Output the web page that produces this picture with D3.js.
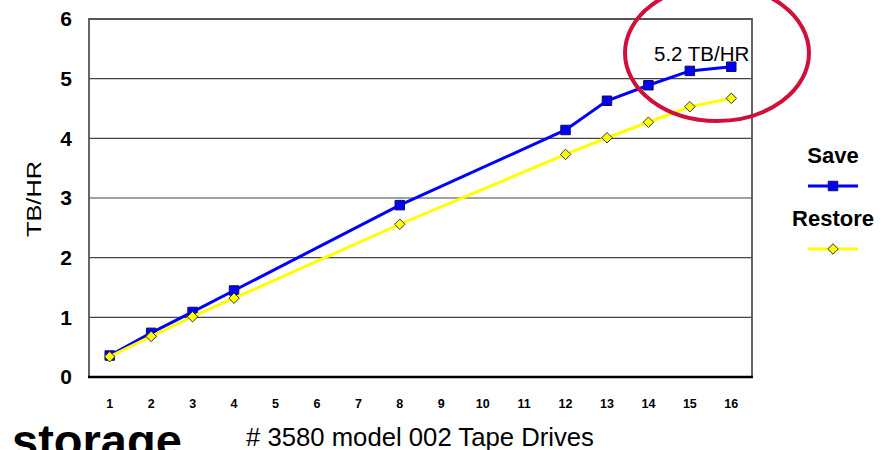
<!DOCTYPE html>
<html>
<head>
<meta charset="utf-8">
<script src="https://cdn.jsdelivr.net/npm/d3@7"></script>
<style>
    body { margin: 0; background: #fff; }
    text { font-family: Arial, "Liberation Sans", sans-serif; }
</style>
</head>
<body>
<div id="chart"></div>
<script>
// data
const drives = ["1", "2", "3", "4", "5", "6", "7", "8", "9", "10", "11", "12", "13", "14", "15", "16"];
const measured = ["1", "2", "3", "4", "8", "12", "13", "14", "15", "16"];
const saveValues = [0.36, 0.74, 1.09, 1.45, 2.88, 4.14, 4.63, 4.89, 5.13, 5.20];
const restoreValues = [0.34, 0.68, 1.01, 1.32, 2.56, 3.73, 4.01, 4.27, 4.53, 4.67];
const yTicks = [0, 1, 2, 3, 4, 5, 6];

class LinePlot {
    constructor(config) {
        this.config = config;
        this.svg = d3.select(config.div)
            .append("svg")
            .attr("width", config.width)
            .attr("height", config.height);
        this.createScales();
    }

    createScales() {
        let c = this.config;
        this.xScale = d3.scaleBand().domain(drives).range([c.left, c.right]).padding(0);
        this.yScale = d3.scaleLinear().domain([0, 6]).range([c.bottom, c.top]);
    }

    cx(d) {
        return this.xScale(d) + this.xScale.bandwidth() / 2;
    }

    symbol(shape) {
        return d3.symbol()
            .type(shape === "square" ? d3.symbolSquare : d3.symbolDiamond2)
            .size(shape === "square" ? 90 : 70);
    }

    renderGrid() {
        let c = this.config;
        this.svg.append("g")
            .selectAll("line")
            .data(yTicks.filter(t => t > 0 && t < 6))
            .join("line")
            .attr("x1", c.left).attr("x2", c.right)
            .attr("y1", d => this.yScale(d)).attr("y2", d => this.yScale(d))
            .attr("stroke", "#444")
            .attr("stroke-width", 1.2);

        // frame
        this.svg.append("path")
            .attr("d", `M${c.left},${c.bottom} V${c.top} H${c.right} V${c.bottom}`)
            .attr("fill", "none")
            .attr("stroke", "#555")
            .attr("stroke-width", 1.8);
        this.svg.append("line")
            .attr("x1", c.left - 1).attr("x2", c.right + 1)
            .attr("y1", c.bottom).attr("y2", c.bottom)
            .attr("stroke", "#000")
            .attr("stroke-width", 2.5);
    }

    renderAxes() {
        let c = this.config;
        let yAxis = d3.axisLeft(this.yScale).tickValues(yTicks).tickFormat(d3.format("d"))
            .tickSize(0).tickPadding(17);
        let gy = this.svg.append("g")
            .attr("transform", `translate(${c.left},0)`)
            .call(yAxis);
        gy.select(".domain").remove();
        gy.selectAll("text")
            .attr("font-size", 21)
            .attr("font-weight", "bold")
            .attr("fill", "#000");

        let xAxis = d3.axisBottom(this.xScale).tickSize(0).tickPadding(22);
        let gx = this.svg.append("g")
            .attr("transform", `translate(0,${c.bottom})`)
            .call(xAxis);
        gx.select(".domain").remove();
        gx.selectAll("text")
            .attr("font-size", 12.5)
            .attr("font-weight", "bold")
            .attr("fill", "#000");
    }

    renderSeries(values, color, shape) {
        let pts = measured.map((d, i) => ({ x: d, y: values[i] }));
        let line = d3.line().x(d => this.cx(d.x)).y(d => this.yScale(d.y));
        this.svg.append("path")
            .datum(pts)
            .attr("d", line)
            .attr("fill", "none")
            .attr("stroke", color)
            .attr("stroke-width", 3);

        this.svg.append("g")
            .selectAll("path")
            .data(pts)
            .join("path")
            .attr("d", this.symbol(shape))
            .attr("transform", d => `translate(${this.cx(d.x)},${this.yScale(d.y)})`)
            .attr("fill", color)
            .attr("stroke", shape === "square" ? "#101050" : "#333")
            .attr("stroke-width", 1);
    }

    renderLegendItem(label, y, color, shape) {
        let x = 833;
        this.svg.append("text")
            .attr("x", x).attr("y", y)
            .attr("text-anchor", "middle")
            .attr("font-size", 22)
            .attr("font-weight", "bold")
            .text(label);
        this.svg.append("line")
            .attr("x1", x - 25).attr("x2", x + 25)
            .attr("y1", y + 23).attr("y2", y + 23)
            .attr("stroke", color)
            .attr("stroke-width", 3);
        this.svg.append("path")
            .attr("d", this.symbol(shape))
            .attr("transform", `translate(${x},${y + 23})`)
            .attr("fill", color)
            .attr("stroke", shape === "square" ? "#101050" : "#333")
            .attr("stroke-width", 1);
    }

    renderLabels() {
        let c = this.config;
        this.svg.append("text")
            .attr("transform", `translate(41,${(c.top + c.bottom) / 2 + 1}) rotate(-90)`)
            .attr("text-anchor", "middle")
            .attr("font-size", 20)
            .attr("textLength", 76)
            .attr("lengthAdjust", "spacingAndGlyphs")
            .text("TB/HR");

        this.svg.append("text")
            .attr("x", 246).attr("y", 446)
            .attr("font-size", 25.7)
            .text("# 3580 model 002 Tape Drives");

        this.svg.append("text")
            .attr("x", 12).attr("y", 457)
            .attr("font-size", 47)
            .attr("font-weight", "bold")
            .text("storage");

        this.svg.append("text")
            .attr("x", 654).attr("y", 61)
            .attr("font-size", 20.5)
            .text("5.2 TB/HR");

        this.svg.append("ellipse")
            .attr("cx", 717).attr("cy", 53)
            .attr("rx", 92).attr("ry", 68)
            .attr("fill", "none")
            .attr("stroke", "#d0103a")
            .attr("stroke-width", 4);
    }
}

function main() {
    let c = { div: "#chart", width: 896, height: 450, top: 19, bottom: 377, left: 89, right: 752 };
    let plot = new LinePlot(c);
    plot.renderGrid();
    plot.renderAxes();
    plot.renderSeries(saveValues, "#0000ff", "square");
    plot.renderSeries(restoreValues, "#ffff00", "diamond");
    plot.renderLegendItem("Save", 163, "#0000ff", "square");
    plot.renderLegendItem("Restore", 226, "#ffff00", "diamond");
    plot.renderLabels();
}

main();
</script>
</body>
</html>
